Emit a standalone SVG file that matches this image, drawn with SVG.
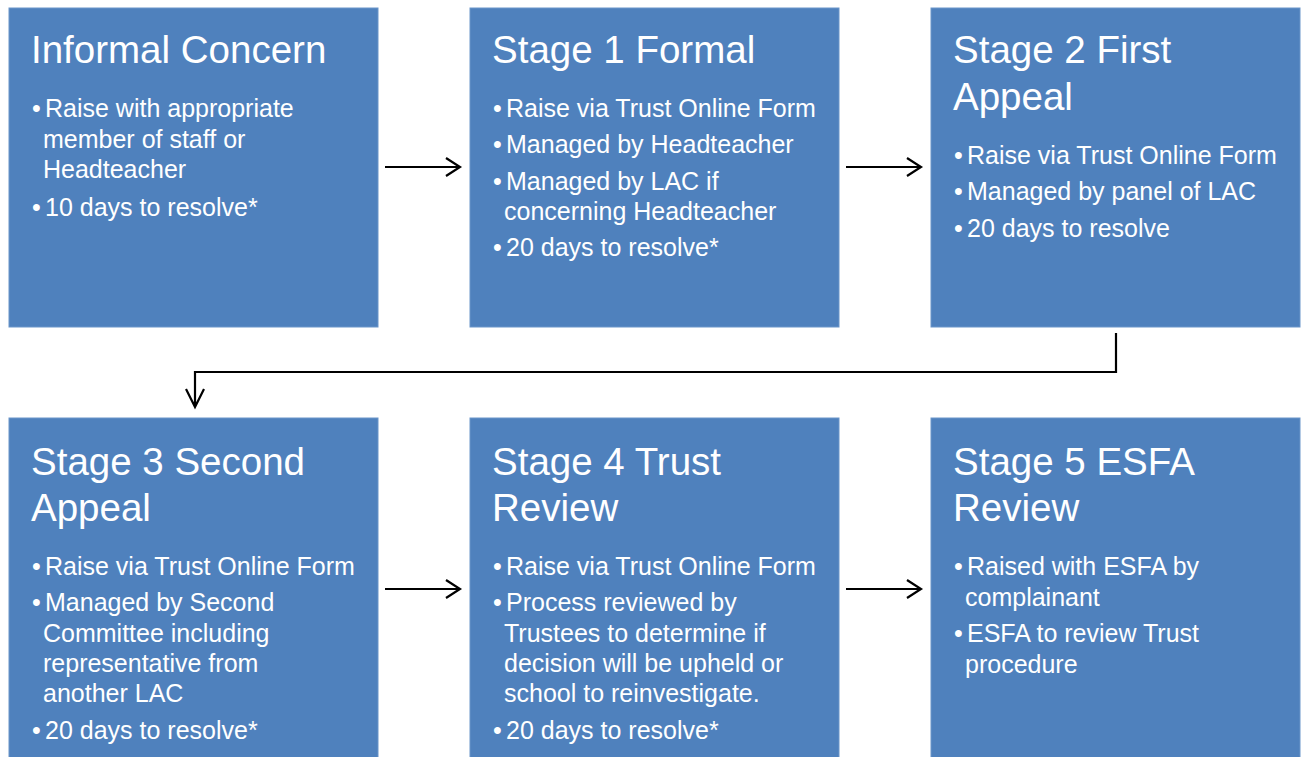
<svg xmlns="http://www.w3.org/2000/svg" width="1307" height="757" viewBox="0 0 1307 757">
<style>
.box{fill:#4F81BD;stroke:#6A95C9;stroke-width:1}
.t{font-family:"Liberation Sans",Arial,sans-serif;fill:#fff}
.h{font-size:38.5px}
.b{font-size:25px}
.c{fill:none;stroke:#000;stroke-width:2.2}
</style>
<rect width="1307" height="757" fill="#fff"/>
<g id="informal">
<rect class="box" x="9" y="8" width="369" height="319"/>
<text class="t h" x="31" y="63">Informal Concern</text>
<text class="t b"><tspan x="32" y="117">•</tspan><tspan x="45" y="117">Raise with appropriate</tspan><tspan x="43" y="148">member of staff or</tspan><tspan x="43" y="178">Headteacher</tspan><tspan x="32" y="216">•</tspan><tspan x="45" y="216">10 days to resolve*</tspan></text>
</g>
<g id="stage1">
<rect class="box" x="470" y="8" width="369" height="319"/>
<text class="t h" x="492" y="63">Stage 1 Formal</text>
<text class="t b"><tspan x="493" y="117">•</tspan><tspan x="506" y="117">Raise via Trust Online Form</tspan><tspan x="493" y="153">•</tspan><tspan x="506" y="153">Managed by Headteacher</tspan><tspan x="493" y="190">•</tspan><tspan x="506" y="190">Managed by LAC if</tspan><tspan x="504" y="220">concerning Headteacher</tspan><tspan x="493" y="256">•</tspan><tspan x="506" y="256">20 days to resolve*</tspan></text>
</g>
<g id="stage2">
<rect class="box" x="931" y="8" width="369" height="319"/>
<text class="t h"><tspan x="953" y="63">Stage 2 First</tspan><tspan x="953" y="110">Appeal</tspan></text>
<text class="t b"><tspan x="954" y="164">•</tspan><tspan x="967" y="164">Raise via Trust Online Form</tspan><tspan x="954" y="200">•</tspan><tspan x="967" y="200">Managed by panel of LAC</tspan><tspan x="954" y="237">•</tspan><tspan x="967" y="237">20 days to resolve</tspan></text>
</g>
<g id="stage3">
<rect class="box" x="9" y="418" width="369" height="345"/>
<text class="t h"><tspan x="31" y="475">Stage 3 Second</tspan><tspan x="31" y="521">Appeal</tspan></text>
<text class="t b"><tspan x="32" y="575">•</tspan><tspan x="45" y="575">Raise via Trust Online Form</tspan><tspan x="32" y="611">•</tspan><tspan x="45" y="611">Managed by Second</tspan><tspan x="43" y="642">Committee including</tspan><tspan x="43" y="672">representative from</tspan><tspan x="43" y="702">another LAC</tspan><tspan x="32" y="739">•</tspan><tspan x="45" y="739">20 days to resolve*</tspan></text>
</g>
<g id="stage4">
<rect class="box" x="470" y="418" width="369" height="345"/>
<text class="t h"><tspan x="492" y="475">Stage 4 Trust</tspan><tspan x="492" y="521">Review</tspan></text>
<text class="t b"><tspan x="493" y="575">•</tspan><tspan x="506" y="575">Raise via Trust Online Form</tspan><tspan x="493" y="611">•</tspan><tspan x="506" y="611">Process reviewed by</tspan><tspan x="504" y="642">Trustees to determine if</tspan><tspan x="504" y="672">decision will be upheld or</tspan><tspan x="504" y="702">school to reinvestigate.</tspan><tspan x="493" y="739">•</tspan><tspan x="506" y="739">20 days to resolve*</tspan></text>
</g>
<g id="stage5">
<rect class="box" x="931" y="418" width="369" height="345"/>
<text class="t h"><tspan x="953" y="475">Stage 5 ESFA</tspan><tspan x="953" y="521">Review</tspan></text>
<text class="t b"><tspan x="954" y="575">•</tspan><tspan x="967" y="575">Raised with ESFA by</tspan><tspan x="965" y="606">complainant</tspan><tspan x="954" y="642">•</tspan><tspan x="967" y="642">ESFA to review Trust</tspan><tspan x="965" y="673">procedure</tspan></text>
</g>
<g id="connectors">
<path class="c" d="M385,167 H459 M446,158 L460,167 L446,176"/>
<path class="c" d="M846,167 H920 M907,158 L921,167 L907,176"/>
<path class="c" d="M385,589 H459 M446,580 L460,589 L446,598"/>
<path class="c" d="M846,589 H920 M907,580 L921,589 L907,598"/>
<path class="c" d="M1116,333 V372 H195 V407 M186,389 L195,407 L204,389"/>
</g>
</svg>
